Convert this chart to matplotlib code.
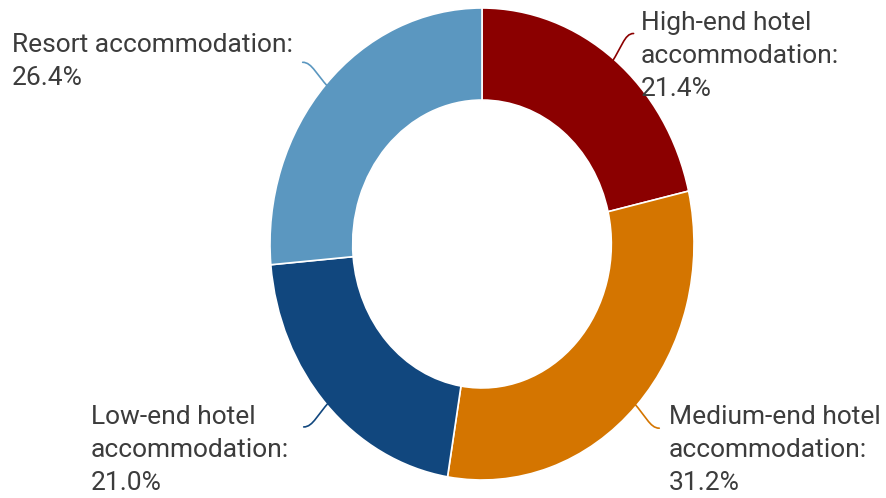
import numpy as np
import matplotlib
matplotlib.use("Agg")
import matplotlib.pyplot as plt
from matplotlib.path import Path
from matplotlib.patches import PathPatch

# Share of accommodation nights by type (%)
categories = [
    "High-end hotel\naccommodation",
    "Medium-end hotel\naccommodation",
    "Low-end hotel\naccommodation",
    "Resort accommodation",
]
shares = [21.4, 31.2, 21.0, 26.4]
colors = ["#8B0000", "#D47500", "#11477E", "#5B97C0"]

# label anchors: left edge x and last-line baseline y, in pixels from top-left
label_pos = [(641, 96), (669, 490), (91, 490), (12, 85)]

W, H = 887, 498
fig = plt.figure(figsize=(W / 100, H / 100), dpi=100)
ax = fig.add_axes([0, 0, 1, 1])

# ring centre and radii in pixels (the ring is slightly taller than wide)
cx, cy = 482, 244
rx, ry = 212, 236

wedges, _ = ax.pie(
    shares,
    colors=colors,
    startangle=90,
    counterclock=False,
    radius=1.0,
    wedgeprops=dict(width=0.39, edgecolor="white", linewidth=1.2),
)
ax.set_aspect("auto")
ax.set_xlim(-cx / rx, (W - cx) / rx)
ax.set_ylim(-(H - cy) / ry, cy / ry)
ax.axis("off")

for w, col, cat, val, (lx, ly) in zip(wedges, colors, categories, shares, label_pos):
    theta = np.deg2rad((w.theta1 + w.theta2) / 2)
    u = np.array([np.cos(theta), np.sin(theta)])
    sign = 1 if u[0] > 0 else -1
    p0 = 0.96 * u
    p1 = 1.06 * u
    end = 1.14 * u + np.array([sign * 0.005, 0])
    p2 = end - np.array([sign * 0.045, 0])
    path = Path([p0, p1, p2, end], [Path.MOVETO, Path.CURVE4, Path.CURVE4, Path.CURVE4])
    ax.add_patch(PathPatch(path, facecolor="none", edgecolor=col, lw=1.2,
                           capstyle="round", zorder=3))

    fig.text(lx / W, 1 - ly / H, f"{cat}:\n{val:.1f}%",
             ha="left", va="baseline", fontsize=19, family="Roboto",
             color="#3c3c3c", linespacing=1.48)

fig.savefig("out.png", dpi=100, facecolor="white")
